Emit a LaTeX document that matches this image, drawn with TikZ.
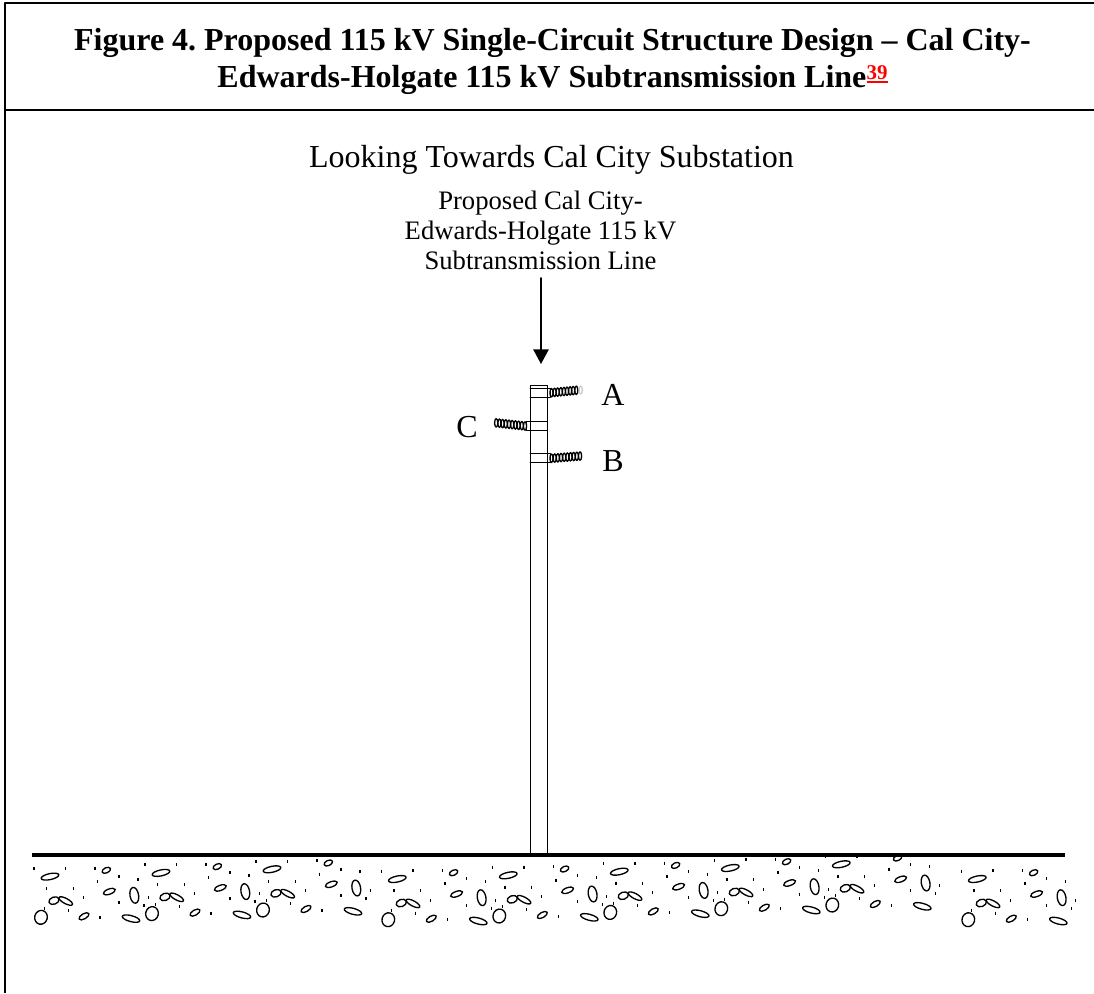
\documentclass[tikz,border=0pt]{standalone}
\usepackage{fontspec}
\setmainfont{Liberation Serif}
\usetikzlibrary{arrows.meta}
\frenchspacing
\tikzset{
    frame/.style={line width=1.5pt,line cap=butt},
    stone/.style={line width=1pt},
    speck/.style={line width=0.9pt,line cap=butt},
    turn/.style={line width=1pt},
    band/.style={line width=0.6pt},
    heading/.style={font=\fontsize{24}{27.75}\selectfont\bfseries,align=center},
    caption/.style={font=\fontsize{20}{22.5}\selectfont,align=center},
    phase/.style={font=\fontsize{24}{25}\selectfont}
}
\begin{document}
\begin{tikzpicture}[line cap=round,line join=round,>={Triangle[length=11pt,width=11.5pt]},x=0.75pt,y=-0.75pt]
    \useasboundingbox (0,0) rectangle (1094,993);
    % table frame
    \draw [frame] (5,993) -- (5,3) -- (1094,3);
    \draw [frame] (5,109.5) -- (1094,109.5);
    \node [heading] (title) at (552.5,61) {Figure 4. Proposed 115 kV Single-Circuit Structure Design -- Cal City-\\Edwards-Holgate 115 kV Subtransmission Line\textcolor{red}{\rlap{\rule[2.75pt]{15.75pt}{2pt}}\raisebox{6pt}{\fontsize{15.75}{16}\selectfont 39}}};
    \node [font=\fontsize{24}{25}\selectfont] (view) at (551.5,160) {Looking Towards Cal City Substation};
    \node [caption] (line) at (540.5,230) {Proposed Cal City-\\Edwards-Holgate 115 kV\\Subtransmission Line};
    % arrow
    \coordinate (tail) at (541,278);
    \coordinate (tip) at (541,364);
    \draw [->,line width=1.25pt] (tail) -- (tip);
    % pole
    \draw [band] (530,385) rectangle (547,853);
    \draw [band] (530,388.3) -- (550,388.3) -- (550,397) -- (530,397);
    \draw [band] (530,453.7) -- (550,453.7) -- (550,462.7) -- (530,462.7);
    \draw [band] (547,421.3) -- (526.7,421.3) -- (526.7,430) -- (547,430);
    % insulators
    \foreach \i in {0,...,8} {
        \draw [turn] (551.5+3.1*\i,392.7-0.3*\i) circle [x radius=1.6,y radius=4.2];
    }
    \foreach \i in {0,...,9} {
        \draw [turn] (551.5+3.17*\i,458.3-0.25*\i) circle [x radius=1.6,y radius=4.2];
        \draw [turn] (525-3.2*\i,426-0.35*\i) circle [x radius=1.6,y radius=4.2];
    }
    \draw [turn,gray!40] (580.7,390) circle [x radius=1.6,y radius=4];
    \node [phase] (A) at (613,395) {A};
    \node [phase] (B) at (613,461) {B};
    \node [phase] (C) at (467,427) {C};
    % ground
    \draw [line width=3pt,line cap=butt] (32,854.5) -- (1065,854.5);
    \foreach \tx/\ty in {41/917.3,152/913.6,263/910,388.3/919.7,499.3/916,610.3/912.4,721.3/908.7,832.3/905,968.3/919.7} {
        \begin{scope}[shift={(\tx,\ty)}]
            \foreach \ex/\ey/\rx/\ry/\ang in {0/0/6.3/7/-15,9/-40.7/9/3/12,65.3/-47/4.5/2.6/25,13/-16.7/5.3/3.6/20,24.7/-16.3/7.6/2.6/-28,43/-1/5.6/2.6/30,68.3/-25.7/6.3/2.6/20,93.3/-22/4.3/8/10,90/1.3/9/3/-15} {
                \draw [stone] (\ex,\ey) circle [x radius=\rx,y radius=\ry,rotate=\ang];
            }
            \foreach \sx/\sy in {-7/-48.7,24.7/-49,54/-49.3,78/-41,56.7/-36,97/-38.3,5.7/-29,32.3/-29,42.3/-19.7,78/-14.7,3.3/-9.3,27.3/-6.7,59/0,107.3/-19.7,103/-11.7} {
                \draw [speck] (\sx,\sy-1.5) -- (\sx,\sy+1.5);
            }
        \end{scope}
    }
\end{tikzpicture}
\end{document}
